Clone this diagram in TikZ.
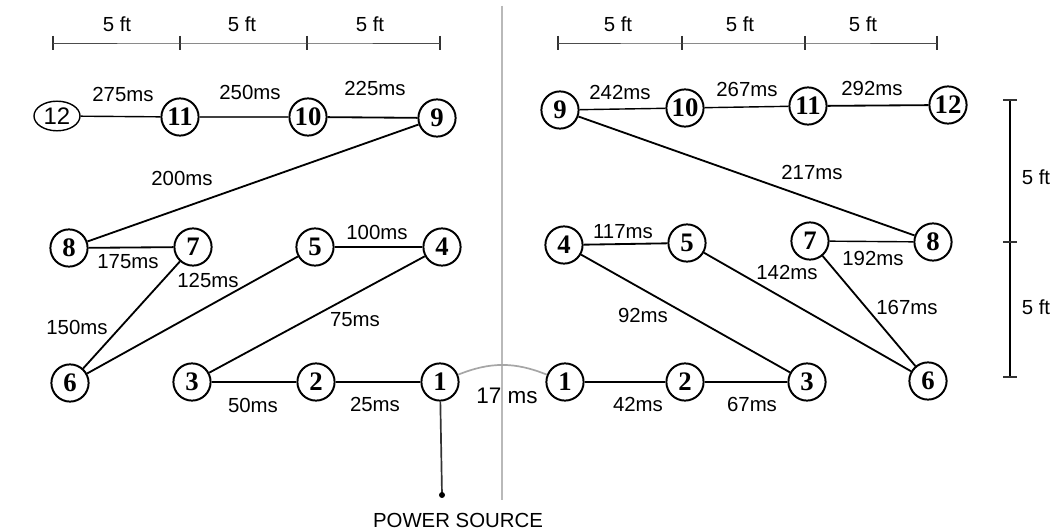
\documentclass[tikz,border=0pt]{standalone}
\usepackage{fontspec}
\setmainfont{Liberation Serif}
\setsansfont{Liberation Sans}
\usetikzlibrary{shapes.geometric}
\begin{document}
\begin{tikzpicture}[x=0.025cm,y=-0.025cm,
  nd/.style={circle,draw,line width=1.4pt,minimum size=0.93cm,inner sep=0pt,font=\bfseries\fontsize{19}{19}\selectfont},
  lbl/.style={font=\sffamily\fontsize{14.5}{16}\selectfont,inner sep=1pt},
  wire/.style={line width=1.3pt},
  bar/.style={line width=0.7pt,black!70},
  tick/.style={line width=0.9pt,black!80}]
\useasboundingbox[fill=white] (0,0) rectangle (1054,530);
% divider
\coordinate (d1) at (502,6);
\coordinate (d2) at (502,500);
\draw[gray!55,line width=1.6pt] (d1) -- (d2);
% top scale bars
\foreach \n/\x in {a/53,b/180,c/307,d/440,e/558,f/682,g/805,h/937}{
  \coordinate (s\n) at (\x,43);
  \draw[tick] (\x,36) -- (\x,50);
}
\draw[bar] (sa) -- (sb) -- (sc) -- (sd);
\draw[bar] (se) -- (sf) -- (sg) -- (sh);
\foreach \x in {117,242,370,618,740,863}{
  \node[lbl] at (\x,24) {5 ft};
}
% vertical scale bar
\coordinate (v1) at (1010,100);
\coordinate (v2) at (1010,242);
\coordinate (v3) at (1010,377);
\draw[line width=1.6pt] (v1) -- (v2) -- (v3);
\foreach \y in {100,242,377}{ \draw[tick] (1003,\y) -- (1017,\y); }
\node[lbl] at (1036,177) {5 ft};
\node[lbl] at (1036,307) {5 ft};
% left nodes
\node[nd,ellipse,line width=1pt,minimum width=1.15cm,minimum height=0.74cm,font=\sffamily\fontsize{17}{17}\selectfont] (L12) at (57,116) {12};
\node[nd] (L11) at (180,117) {11};
\node[nd] (L10) at (308,117) {10};
\node[nd] (L9) at (437,118) {9};
\node[nd] (L8) at (69,248) {8};
\node[nd] (L7) at (193,247) {7};
\node[nd] (L5) at (315,247) {5};
\node[nd] (L4) at (442,247) {4};
\node[nd] (L6) at (70,383) {6};
\node[nd] (L3) at (192,382) {3};
\node[nd] (L2) at (316,382) {2};
\node[nd] (L1) at (440,382) {1};
% right nodes
\node[nd] (R9) at (560,110) {9};
\node[nd] (R10) at (685,108) {10};
\node[nd] (R11) at (808,106) {11};
\node[nd] (R12) at (948,105) {12};
\node[nd] (R4) at (564,245) {4};
\node[nd] (R5) at (687,243) {5};
\node[nd] (R7) at (810,241) {7};
\node[nd] (R8) at (933,242) {8};
\node[nd] (R1) at (565,382) {1};
\node[nd] (R2) at (685,382) {2};
\node[nd] (R3) at (807,382) {3};
\node[nd] (R6) at (928,381) {6};
% left edges
\draw[wire,line width=1pt] (L12) -- (L11);
\draw[wire,black!75] (L11) -- (L10);
\draw[wire] (L10) -- (L9);
\draw[wire] (L9) -- (L8);
\draw[wire] (L8) -- (L7);
\draw[wire] (L7) -- (L6);
\draw[wire] (L6) -- (L5);
\draw[wire,line width=1pt] (L5) -- (L4);
\draw[wire] (L4) -- (L3);
\draw[wire] (L3) -- (L2);
\draw[wire] (L2) -- (L1);
\draw[wire,gray!70,line width=1.2pt] (L1) to[bend left=22] (R1);
% right edges
\draw[wire] (R1) -- (R2);
\draw[wire,line width=2pt] (R2) -- (R3);
\draw[wire] (R3) -- (R4);
\draw[wire] (R4) -- (R5);
\draw[wire] (R5) -- (R6);
\draw[wire] (R6) -- (R7);
\draw[wire,line width=1pt] (R7) -- (R8);
\draw[wire] (R8) -- (R9);
\draw[wire,line width=1pt] (R9) -- (R10);
\draw[wire,line width=1pt] (R10) -- (R11);
\draw[wire] (R11) -- (R12);
% power source
\coordinate (ps) at (442,495);
\draw[line width=1.2pt,black!80] (L1) -- (ps);
\fill (ps) circle (3);
\node[lbl] (pslabel) at (458,520) {POWER SOURCE};
% left labels
\node[lbl] (t275) at (123,94) {275ms};
\node[lbl] (t250) at (250,92) {250ms};
\node[lbl] (t225) at (375,88) {225ms};
\node[lbl] (t200) at (182,178) {200ms};
\node[lbl] (t175) at (128,262) {175ms};
\node[lbl] (t125) at (208,280) {125ms};
\node[lbl] (t150) at (77,327) {150ms};
\node[lbl] (t100) at (377,232) {100ms};
\node[lbl] (t75) at (355,320) {75ms};
\node[lbl] (t50) at (253,405) {50ms};
\node[lbl] (t25) at (375,404) {25ms};
\node[lbl,font=\sffamily\fontsize{16}{16}\selectfont] (t17) at (507,396) {17 ms};
% right labels
\node[lbl] (t42) at (638,404) {42ms};
\node[lbl] (t67) at (752,404) {67ms};
\node[lbl] (t92) at (643,315) {92ms};
\node[lbl] (t117) at (623,232) {117ms};
\node[lbl] (t142) at (787,272) {142ms};
\node[lbl] (t167) at (907,307) {167ms};
\node[lbl] (t192) at (873,258) {192ms};
\node[lbl] (t217) at (812,172) {217ms};
\node[lbl] (t242) at (620,92) {242ms};
\node[lbl] (t267) at (747,89) {267ms};
\node[lbl] (t292) at (872,88) {292ms};
\end{tikzpicture}
\end{document}
